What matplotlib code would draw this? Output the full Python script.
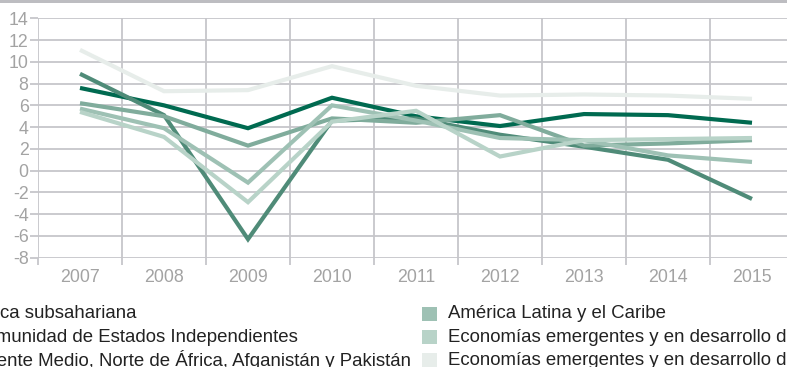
import numpy as np
import matplotlib.pyplot as plt
from matplotlib.patches import Rectangle

plt.rcParams['font.family'] = ['Liberation Sans', 'DejaVu Sans']
plt.rcParams['axes.unicode_minus'] = False

years = ['2007', '2008', '2009', '2010', '2011', '2012', '2013', '2014', '2015']

# Real GDP growth by region (%)
africa_sub = [7.6, 6.0, 3.9, 6.7, 5.0, 4.1, 5.2, 5.1, 4.4]
cei = [8.9, 5.1, -6.3, 4.6, 4.8, 3.3, 2.2, 1.0, -2.6]
menap = [6.2, 5.0, 2.3, 4.8, 4.4, 5.1, 2.3, 2.5, 2.8]
latam = [5.7, 3.9, -1.1, 6.0, 4.6, 3.0, 2.8, 1.4, 0.8]
europa = [5.4, 3.1, -2.9, 4.5, 5.5, 1.3, 2.8, 2.9, 3.0]
asia = [11.1, 7.3, 7.4, 9.6, 7.8, 6.9, 7.0, 6.9, 6.6]

series = [africa_sub, cei, menap, latam, europa, asia]
labels = [
    'África subsahariana',
    'Comunidad de Estados Independientes',
    'Oriente Medio, Norte de África, Afganistán y Pakistán',
    'América Latina y el Caribe',
    'Economías emergentes y en desarrollo de Europa',
    'Economías emergentes y en desarrollo de Asia',
]
colors = ['#006a50', '#4f8b78', '#80ac9c', '#9ec1b4', '#b8d3c8', '#e7edea']

W, H = 787, 367
fig = plt.figure(figsize=(W / 100, H / 100), dpi=100)


def fx(x):
    return x / W


def fy(y):
    return 1 - y / H


grid_col = '#c6c6ca'
tick_col = '#a3a3a3'

# thin gray band along the top edge
fig.patches.append(Rectangle((0, fy(3)), 1, 3 / H, transform=fig.transFigure,
                             facecolor='#bdbdc1', edgecolor='none'))

ax = fig.add_axes([fx(38), fy(257.7), 756 / W, 239.4 / H])
x = np.arange(len(years))
for vals, c in zip(series, colors):
    ax.plot(x, vals, color=c, lw=3, solid_joinstyle='miter', solid_capstyle='butt')

ax.set_xlim(-0.5, 8.5)
ax.set_ylim(-8, 14)
for s in ax.spines.values():
    s.set_visible(False)

ax.set_yticks(range(-8, 15, 2))
ax.set_xticks(x)
ax.set_xticklabels(years)
ax.set_xticks(np.arange(-0.5, 8.5, 1), minor=True)
ax.grid(axis='y', which='major', color=grid_col, lw=1.3)
ax.grid(axis='x', which='minor', color=grid_col, lw=1.3)
ax.set_axisbelow(True)
ax.tick_params(axis='y', length=5.8, width=1.3, color=grid_col, pad=1,
               labelsize=12.8, labelcolor=tick_col)
ax.tick_params(axis='x', which='major', length=0, pad=8,
               labelsize=12.8, labelcolor=tick_col)
ax.tick_params(axis='x', which='minor', length=5, width=1.3, color=grid_col)

# legend in two columns, partly running off the canvas
rows_y = [313.7, 337, 360.3]
col_x = [-28, 448]
for i, (lab, c) in enumerate(zip(labels, colors)):
    col, row = divmod(i, 3)
    tx = col_x[col]
    ty = rows_y[row]
    fig.patches.append(Rectangle((fx(tx - 26.3), fy(ty + 7)), 15 / W, 14 / H,
                                 transform=fig.transFigure, facecolor=c,
                                 edgecolor='none'))
    fig.text(fx(tx), fy(ty), lab, fontsize=13.4, color='#222222',
             ha='left', va='center')

fig.savefig('out.png', dpi=100)
